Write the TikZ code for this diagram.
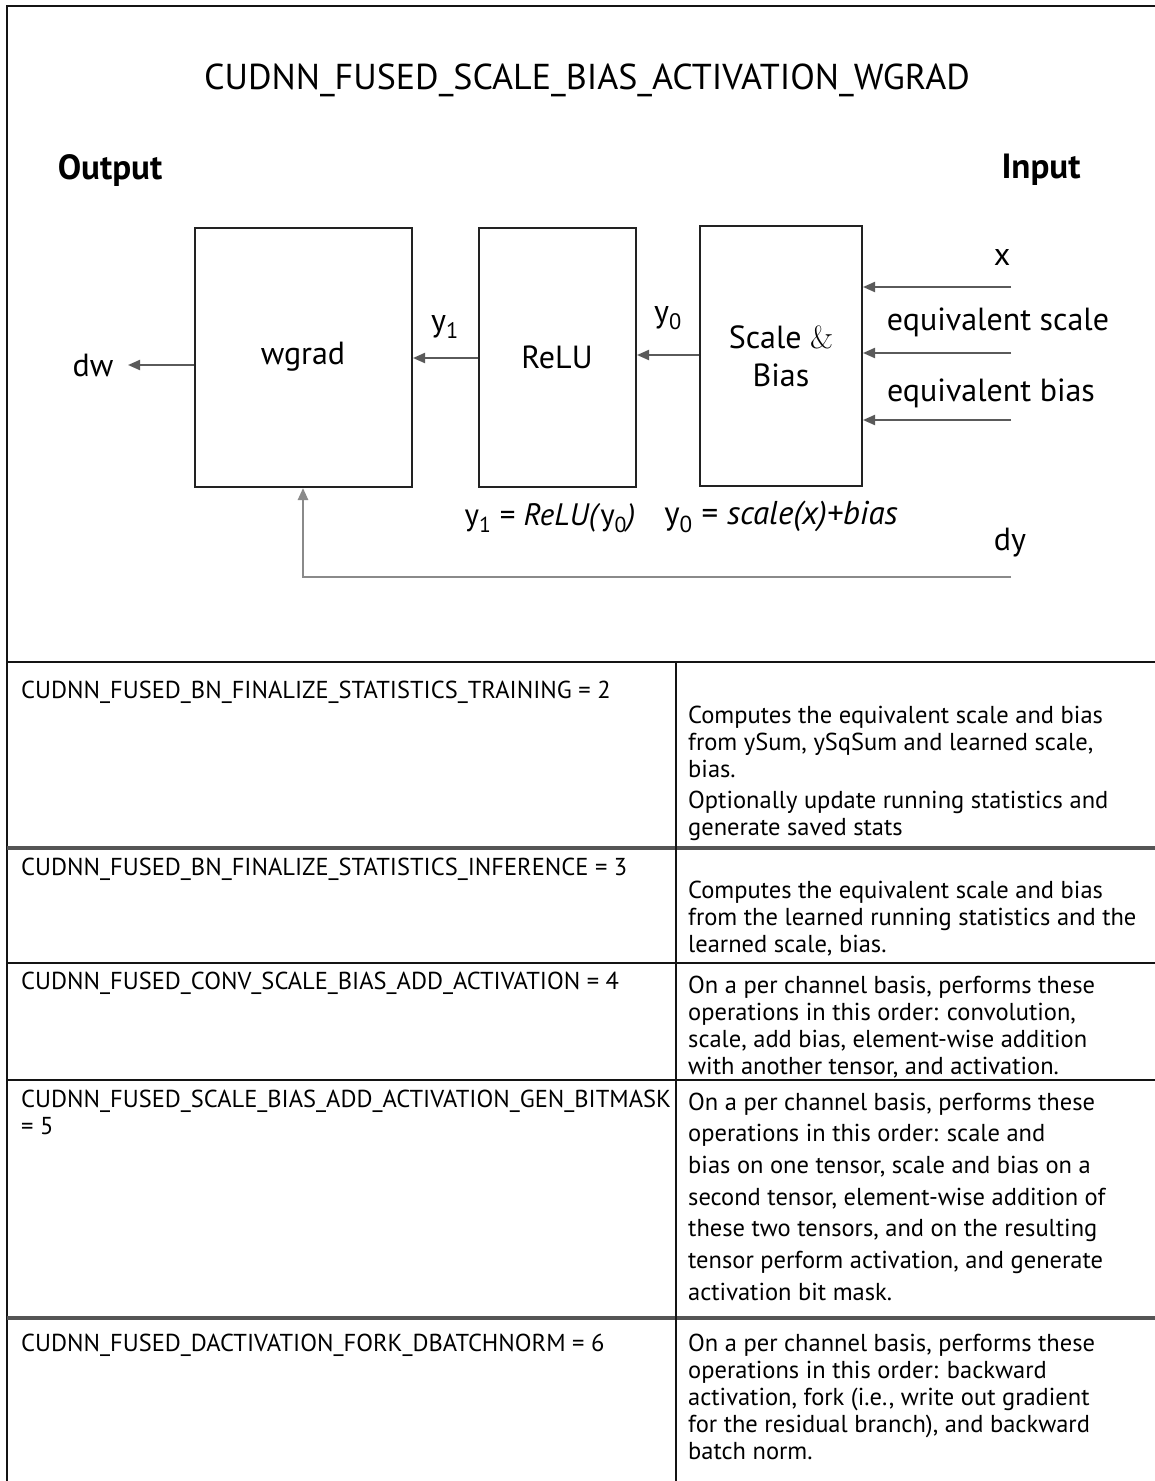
\documentclass[tikz,border=0pt]{standalone}
\usepackage{fontspec}
\setmainfont{PT Sans}
\newfontfamily\lmfont{Latin Modern Roman}
\usetikzlibrary{arrows.meta}
\definecolor{boxc}{HTML}{222222}
\definecolor{arrc}{HTML}{5A5A5A}
\definecolor{dyc}{HTML}{8A8A8A}
\definecolor{framec}{HTML}{141414}
\definecolor{rowc}{HTML}{555555}
\tikzset{
  arr/.style={draw=arrc, line width=2pt, -{Triangle[length=12pt,width=10pt]}},
  lbl/.style={inner sep=0pt, font=\fontsize{32}{36}\selectfont, text=black},
  tbl/.style={inner sep=0pt, anchor=north west, align=left, font=\fontsize{24.5}{27}\selectfont, text=black},
  rule/.style={draw=framec, line width=2.5pt},
  rowrule/.style={draw=rowc, line width=4pt},
}
\begin{document}
\begin{tikzpicture}[x=1pt,y=-1pt]
\useasboundingbox (0,0) rectangle (1155,1481);
% frame
\draw[rule] (7,1481) -- (7,6) -- (1155,6);
\node[inner sep=0pt, font=\fontsize{36}{40}\selectfont] (title) at (587,80) {CUDNN\_FUSED\_SCALE\_BIAS\_ACTIVATION\_WGRAD};
\node[inner sep=0pt, font=\fontsize{35}{40}\selectfont\bfseries] (outl) at (110,170) {Output};
\node[inner sep=0pt, font=\fontsize{35}{40}\selectfont\bfseries] (inl) at (1041,170) {Input};
% boxes
\node[draw=boxc, line width=2pt, inner sep=0pt, minimum width=217pt, minimum height=259pt] (wg) at (303.5,357.5) {};
\node[draw=boxc, line width=2pt, inner sep=0pt, minimum width=157pt, minimum height=259pt] (re) at (557.5,357.5) {};
\node[draw=boxc, line width=2pt, inner sep=0pt, minimum width=162pt, minimum height=260pt] (sb) at (781,356) {};
\node[lbl] (wgt) at (303,357) {wgrad};
\node[lbl] (ret) at (557,357) {ReLU};
\node[lbl, align=center, font=\fontsize{32}{38}\selectfont] (sbt) at (781,356) {Scale {\lmfont\&}\\Bias};
% outputs
\node[lbl] (dw) at (93,365) {dw};
\coordinate (dwend) at (128,365);
\draw[arr] (wg.west |- dwend) -- (dwend);
\draw[arr] (re.west |- 0,358) -- (wg.east |- 0,358);
\node[lbl] (y1) at (445,327) {y\textsubscript{1}};
\draw[arr] (sb.west |- 0,355) -- (re.east |- 0,355);
\node[lbl] (y0) at (668,318) {y\textsubscript{0}};
% inputs
\coordinate (xin) at (1011,287);
\coordinate (sin) at (1011,353);
\coordinate (bin) at (1011,420);
\coordinate (dyin) at (1011,577);
\coordinate (dycorner) at (303,577);
\draw[arr] (xin) -- (sb.east |- xin);
\draw[arr] (sin) -- (sb.east |- sin);
\draw[arr] (bin) -- (sb.east |- bin);
\node[lbl] (xl) at (1002,257) {x};
\node[lbl] (sl) at (998,322) {equivalent scale};
\node[lbl] (bl) at (991,393) {equivalent bias};
\node[lbl] (dyl) at (1010,543) {dy};
\draw[draw=dyc, line width=2.5pt, -{Triangle[length=12pt,width=10pt]}] (dyin) -- (dycorner) -- (wg.south -| dycorner);
% formulas
\node[lbl, font=\fontsize{31}{34}\selectfont] (f1) at (550,518) {y\textsubscript{1} = \textit{ReLU(}y\textsubscript{0}\textit{)}};
\node[lbl, font=\fontsize{33}{36}\selectfont] (f2) at (781,517) {y\textsubscript{0} = \textit{scale(x)+bias}};
% table
\draw[rule] (7,662) -- (1155,662);
\draw[rowrule] (7,848) -- (1155,848);
\draw[rule] (7,963) -- (1155,963);
\draw[rule] (7,1080) -- (1155,1080);
\draw[rowrule] (7,1318) -- (1155,1318);
\draw[rule] (676,662) -- (676,1481);
\node[tbl] (l1) at (21,680.5) {CUDNN\_FUSED\_BN\_FINALIZE\_STATISTICS\_TRAINING = 2};
\node[tbl] (r1) at (688,705.5) {Computes the equivalent scale and bias\\from ySum, ySqSum and learned scale,\\bias.\\[4pt]Optionally update running statistics and\\generate saved stats};
\node[tbl] (l2) at (21,857.5) {CUDNN\_FUSED\_BN\_FINALIZE\_STATISTICS\_INFERENCE = 3};
\node[tbl] (r2) at (688,880.5) {Computes the equivalent scale and bias\\from the learned running statistics and the\\learned scale, bias.};
\node[tbl] (l3) at (21,971.5) {CUDNN\_FUSED\_CONV\_SCALE\_BIAS\_ADD\_ACTIVATION = 4};
\node[tbl] (r3) at (688,975.5) {On a per channel basis, performs these\\operations in this order: convolution,\\scale, add bias, element-wise addition\\with another tensor, and activation.};
\node[tbl] (l4) at (21,1089.5) {CUDNN\_FUSED\_SCALE\_BIAS\_ADD\_ACTIVATION\_GEN\_BITMASK\\= 5};
\node[tbl, font=\fontsize{24.5}{31.7}\selectfont] (r4) at (688,1092.5) {On a per channel basis, performs these\\operations in this order: scale and\\bias on one tensor, scale and bias on a\\second tensor, element-wise addition of\\these two tensors, and on the resulting\\tensor perform activation, and generate\\activation bit mask.};
\node[tbl] (l5) at (21,1333.5) {CUDNN\_FUSED\_DACTIVATION\_FORK\_DBATCHNORM = 6};
\node[tbl] (r5) at (688,1333.5) {On a per channel basis, performs these\\operations in this order: backward\\activation, fork (i.e., write out gradient\\for the residual branch), and backward\\batch norm.};
\end{tikzpicture}
\end{document}
